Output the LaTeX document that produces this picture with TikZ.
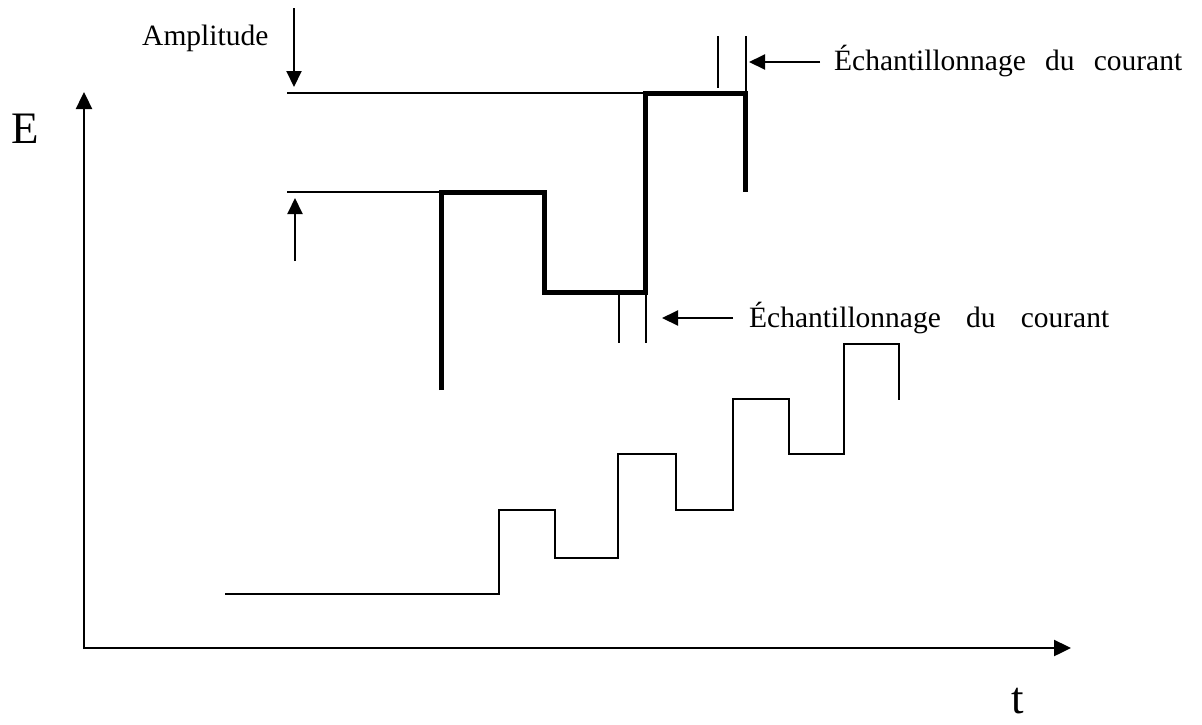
\documentclass[tikz,border=0pt]{standalone}
\usepackage{fontspec}
\setmainfont{Liberation Serif}
\usetikzlibrary{arrows.meta}
\begin{document}
\begin{tikzpicture}[x=1pt,y=-1pt,
  axis/.style={line width=2.4pt,-{Triangle[length=17pt,width=16pt]}},
  thinline/.style={line width=1.9pt},
  wave/.style={line width=5pt,line join=miter},
  pointer/.style={line width=2pt,-{Triangle[length=16pt,width=15pt]}},
  lbl/.style={font=\fontsize{29.5}{34}\selectfont,inner sep=0pt},
  big/.style={font=\fontsize{45}{50}\selectfont,inner sep=0pt}]
\useasboundingbox (0,0) rectangle (1202,724);

% axes
\coordinate (O) at (84,649);
\coordinate (Etop) at (84,92);
\coordinate (Tend) at (1071,648);
\draw[axis] (O) -- (Etop);
\draw[axis] (84,648) -- (Tend);
\node[big,anchor=base] (E) at (25,143) {E};
\node[big,anchor=base] (t) at (1018,713) {t};

% amplitude reference levels
\coordinate (r1a) at (287,93);
\coordinate (r1b) at (645,93);
\coordinate (r2a) at (287,192);
\coordinate (r2b) at (441,192);
\draw[thinline] (r1a) -- (r1b);
\draw[thinline] (r2a) -- (r2b);

% amplitude label and arrows
\node[lbl,anchor=base west] (amp) at (142,45) {Amplitude};
\coordinate (d0) at (294,8);
\coordinate (d1) at (294,87);
\coordinate (u0) at (295,261);
\coordinate (u1) at (295,198);
\draw[pointer] (d0) -- (d1);
\draw[pointer] (u0) -- (u1);

% pulse waveform (bold)
\draw[wave] (441,390) -- (441,192) -- (544,192) -- (544,292) -- (645,292)
  -- (645,93) -- (745,93) -- (745,192);

% current sampling, upper step
\coordinate (s1a) at (718,36);
\coordinate (s1b) at (718,88);
\coordinate (s1c) at (746,36);
\coordinate (s1d) at (746,93);
\draw[thinline] (s1a) -- (s1b);
\draw[thinline] (s1c) -- (s1d);
\node[lbl,anchor=base west] (samp1) at (834,70)
  {\makebox[348pt][s]{Échantillonnage du courant}};
\coordinate (p1) at (749,62);
\draw[pointer] (samp1.west |- p1) ++(-14,0) -- (p1);

% current sampling, lower step
\coordinate (s2a) at (619,293);
\coordinate (s2b) at (619,343);
\coordinate (s2c) at (646,293);
\coordinate (s2d) at (646,343);
\draw[thinline] (s2a) -- (s2b);
\draw[thinline] (s2c) -- (s2d);
\node[lbl,anchor=base west] (samp2) at (749,327)
  {\makebox[360pt][s]{Échantillonnage du courant}};
\coordinate (p2) at (662,318);
\draw[pointer] (samp2.west |- p2) ++(-16,0) -- (p2);

% staircase ramp
\draw[thinline] (225,594) -- (499,594) -- (499,510) -- (555,510) -- (555,558)
  -- (618,558) -- (618,454) -- (676,454) -- (676,510) -- (733,510)
  -- (733,399) -- (789,399) -- (789,454) -- (844,454) -- (844,344)
  -- (899,344) -- (899,400);
\end{tikzpicture}
\end{document}
